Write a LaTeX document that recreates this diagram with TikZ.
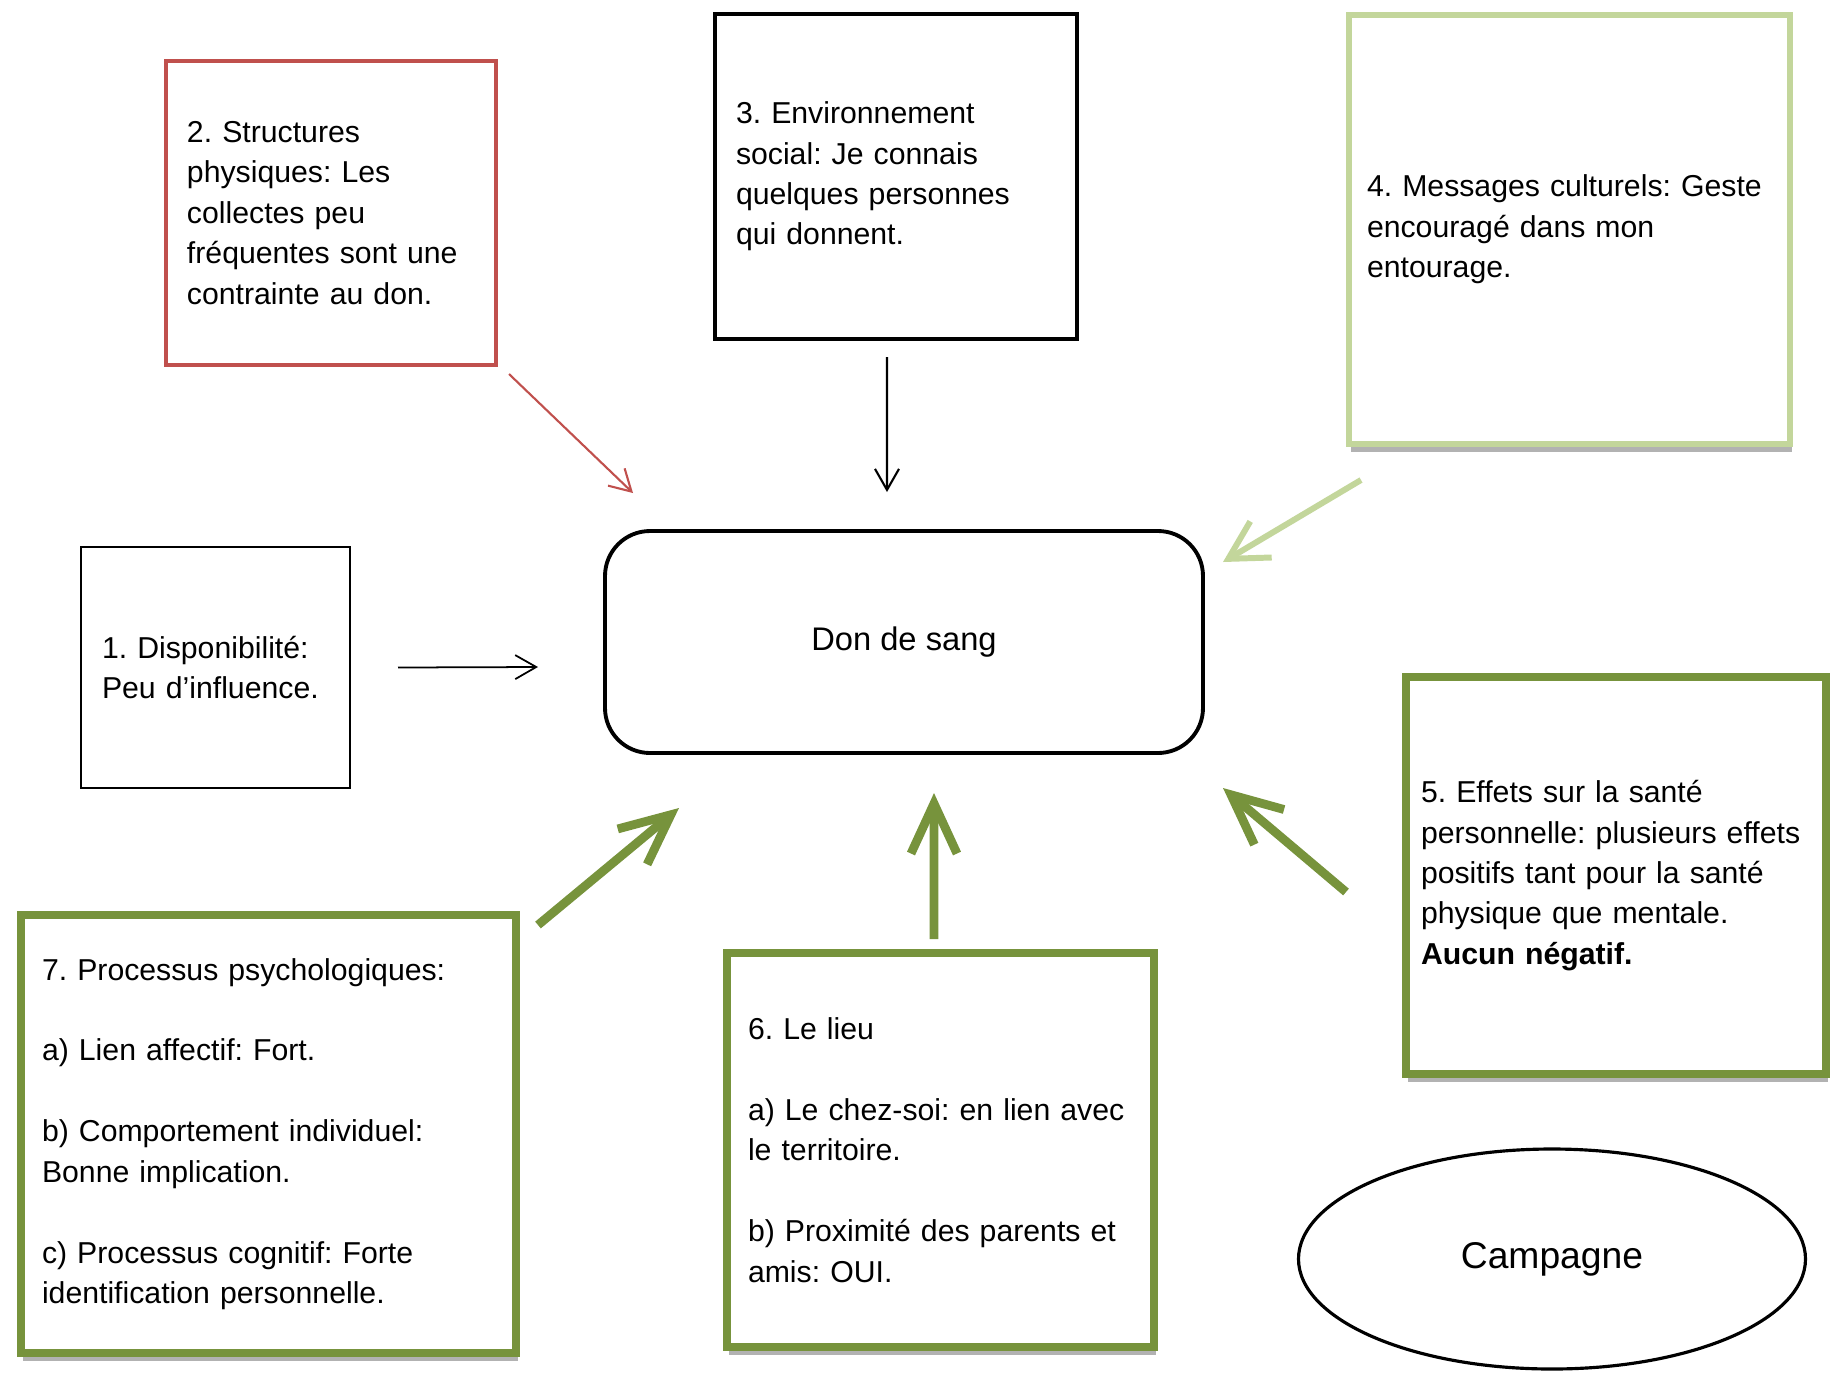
\documentclass[tikz,border=0pt]{standalone}
\usepackage{fontspec}
\setmainfont{Liberation Sans}
\usepackage{tikz}
\usetikzlibrary{arrows.meta,shapes.geometric,shadows}
\definecolor{rouge}{HTML}{C0504D}
\definecolor{vertclair}{HTML}{C3D69B}
\definecolor{vert}{HTML}{77933C}
\frenchspacing
\hyphenpenalty=10000

\begin{document}
\begin{tikzpicture}[
  facteur/.style={draw,fill=white,rectangle,align=left,inner sep=0pt,outer sep=0pt,font=\fontsize{8.6}{11.5}\selectfont},
  ombre/.style={drop shadow={shadow xshift=0.02cm,shadow yshift=-0.08cm,opacity=0.3,fill=black}},
  petitefleche/.style={-{Straight Barb[length=0.21cm,width=0.24cm]}},
  grossefleche/.style={vert,line width=2.5pt,-{Straight Barb[length=0.5cm,width=0.46cm]}}
]
\useasboundingbox (0,0) rectangle (18.35,-13.73);

\node[facteur,line width=0.45pt,minimum width=2.69cm,minimum height=2.41cm,text width=2.27cm] (dispo) at (2.155,-6.675) {1. Disponibilité:\\Peu d’influence.};

\node[facteur,draw=rouge,line width=0.9pt,minimum width=3.30cm,minimum height=3.04cm,text width=2.88cm] (structures) at (3.31,-2.13) {2. Structures\\physiques: Les\\collectes peu\\fréquentes sont une\\contrainte au don.};

\node[facteur,line width=1.1pt,minimum width=3.62cm,minimum height=3.25cm,text width=3.20cm] (social) at (8.96,-1.765) {3. Environnement\\social: Je connais\\quelques personnes\\qui donnent.};

\node[facteur,draw=vertclair,line width=1.8pt,minimum width=4.41cm,minimum height=4.29cm,text width=4.05cm,ombre] (culture) at (15.695,-2.295) {4. Messages culturels: Geste\\encouragé dans mon\\entourage.};

\node[draw,rectangle,rounded corners=0.45cm,line width=1.1pt,outer sep=0pt,minimum width=5.98cm,minimum height=2.22cm,font=\fontsize{9.3}{11.5}\selectfont] (don) at (9.04,-6.42) {Don de sang};

\node[facteur,draw=vert,line width=2.5pt,minimum width=4.20cm,minimum height=3.97cm,text width=3.90cm,ombre] (sante) at (16.16,-8.755) {5. Effets sur la santé\\personnelle: plusieurs effets\\positifs tant pour la santé\\physique que mentale.\\\textbf{Aucun négatif.}};

\node[facteur,draw=vert,line width=2.5pt,minimum width=4.27cm,minimum height=3.94cm,text width=3.85cm,ombre] (lieu) at (9.405,-11.50) {6. Le lieu\\[11.5pt]a) Le chez-soi: en lien avec\\le territoire.\\[11.5pt]b) Proximité des parents et\\amis: OUI.};

\node[facteur,draw=vert,line width=2.5pt,minimum width=4.95cm,minimum height=4.38cm,text width=4.53cm,ombre] (psycho) at (2.685,-11.34) {7. Processus psychologiques:\\[11.5pt]a) Lien affectif: Fort.\\[11.5pt]b) Comportement individuel:\\Bonne implication.\\[11.5pt]c) Processus cognitif: Forte\\identification personnelle.};

\node[draw,ellipse,line width=0.9pt,minimum width=5.07cm,minimum height=2.20cm,font=\fontsize{10.6}{12}\selectfont] (campagne) at (15.52,-12.59) {Campagne};

\path [petitefleche,line width=0.5pt] ([xshift=0.48cm]dispo.east) edge ([xshift=-0.67cm,yshift=-0.25cm]don.west);
\path [petitefleche,rouge,line width=0.6pt] ([xshift=0.13cm,yshift=-0.09cm]structures.south east) edge ([xshift=0.28cm,yshift=0.38cm]don.north west);
\path [petitefleche,line width=0.6pt] ([xshift=-0.09cm,yshift=-0.18cm]social.south) edge ([xshift=-0.17cm,yshift=0.39cm]don.north);
\path [vertclair,line width=1.7pt,-{Straight Barb[length=0.38cm,width=0.42cm]}] ([xshift=0.12cm,yshift=-0.36cm]culture.south west) edge ([xshift=0.20cm,yshift=-0.31cm]don.north east);
\path [grossefleche] ([xshift=-0.60cm,yshift=-0.165cm]sante.west) edge ([xshift=0.20cm,yshift=-0.35cm]don.south east);
\path [grossefleche] ([xshift=-0.065cm,yshift=0.14cm]lieu.north) edge ([xshift=0.30cm,yshift=-0.40cm]don.south);
\path [grossefleche] ([xshift=0.22cm,yshift=-0.10cm]psycho.north east) edge ([xshift=0.74cm,yshift=-0.55cm]don.south west);
\end{tikzpicture}
\end{document}
